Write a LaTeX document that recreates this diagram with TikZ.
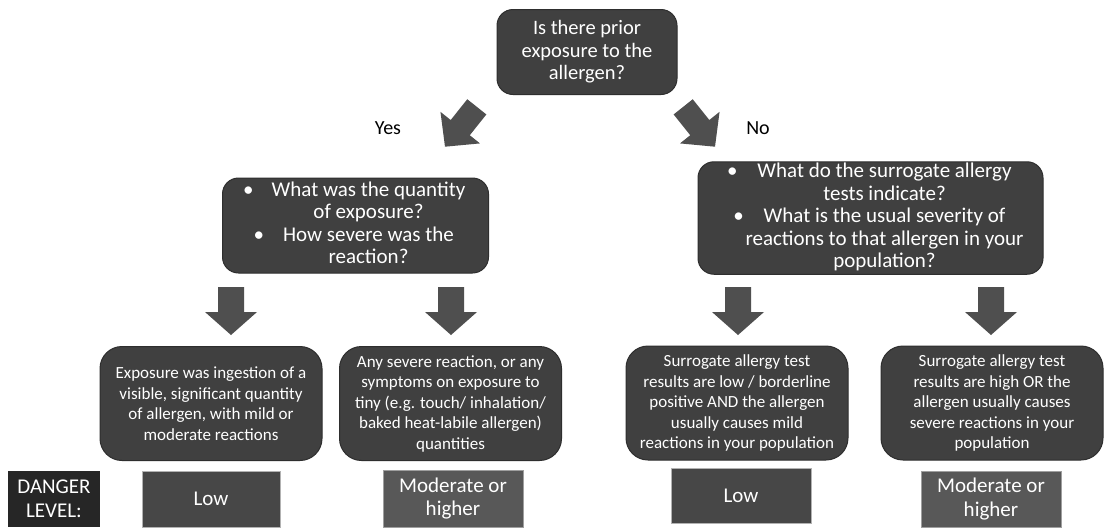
\documentclass[tikz,border=0pt]{standalone}
\usepackage{fontspec}
\setmainfont{Carlito}

\definecolor{boxgray}{HTML}{404040}
\definecolor{boxedge}{HTML}{2E2E2E}
\definecolor{arrowgray}{HTML}{4F4F4F}
\definecolor{lowgray}{HTML}{474747}
\definecolor{modgray}{HTML}{585858}
\definecolor{levelgray}{HTML}{262626}

\tikzset{
  qbox/.style={draw=boxedge, fill=boxgray, line width=1pt, rounded corners=16pt,
    text=white, align=center, inner sep=0pt},
  bbox/.style={qbox, rounded corners=22pt, minimum width=222, minimum height=114,
    font=\fontsize{17}{20.5}\selectfont},
  levelbox/.style={draw=gray!60, fill=lowgray, line width=0.8pt, text=white,
    align=center, inner sep=0pt, font=\fontsize{21}{23.5}\selectfont},
  lbl/.style={font=\fontsize{20}{24}\selectfont},
  % block arrows, tip at the origin, pointing along x
  downarrow/.pic={\fill[arrowgray] (0,0) -- (-23,26) -- (-23,13) -- (-48,13)
    -- (-48,-13) -- (-23,-13) -- (-23,-26) -- cycle;},
  slantarrow/.pic={\fill[arrowgray] (0,0) -- (-24.4,25.3) -- (-24.4,12.2) -- (-51,12.2)
    -- (-51,-12.2) -- (-24.4,-12.2) -- (-24.4,-25.3) -- cycle;}
}

\begin{document}
\begin{tikzpicture}[x=1pt, y=-1pt]
\useasboundingbox[fill=white] (0,0) rectangle (1106,531);

% question at the top
\node[qbox, minimum width=180, minimum height=85, font=\fontsize{20.5}{22.5}\selectfont]
  (prior) at (587,52) {Is there prior\\exposure to the\\allergen?};

% yes / no branches
\pic[rotate=231.4] (yesarrow) at (445,146.7) {slantarrow};
\pic[rotate=308.6] (noarrow) at (715,146.7) {slantarrow};
\node[lbl] (yes) at (388,128) {Yes};
\node[lbl] (no) at (758,128) {No};

% second level questions
\node[qbox, minimum width=266, minimum height=95, font=\fontsize{21}{22.5}\selectfont]
  (quantity) at (355.5,225.5) {\begin{tabular}{@{\hspace{26pt}}c@{}}
  \llap{\textbullet\hspace{18pt}}What was the quantity\\
  of exposure?\\
  \llap{\textbullet\hspace{19pt}}How severe was the\\
  reaction?\end{tabular}};
\node[qbox, minimum width=345, minimum height=110, font=\fontsize{21}{22.5}\selectfont]
  (surrogate) at (870.5,218) {\begin{tabular}{@{\hspace{28pt}}c@{}}
  \llap{\textbullet\hspace{20pt}}What do the surrogate allergy\\
  tests indicate?\\
  \llap{\textbullet\hspace{20pt}}What is the usual severity of\\
  reactions to that allergen in your\\
  population?\end{tabular}};

% down arrows
\pic[rotate=-90] (down1) at (231,335) {downarrow};
\pic[rotate=-90] (down2) at (451,335) {downarrow};
\pic[rotate=-90] (down3) at (738,335) {downarrow};
\pic[rotate=-90] (down4) at (991,335) {downarrow};

% outcomes
\node[bbox] (ingestion) at (211,403.5) {Exposure was ingestion of a\\visible, significant quantity\\of allergen, with mild or\\moderate reactions};
\node[bbox] (severe) at (450.5,403.5) {Any severe reaction, or any\\symptoms on exposure to\\tiny (e.g. touch/ inhalation/\\baked heat-labile allergen)\\quantities};
\node[bbox] (lowtest) at (737,403) {Surrogate allergy test\\results are low / borderline\\positive AND the allergen\\usually causes mild\\reactions in your population};
\node[bbox] (hightest) at (992,403) {Surrogate allergy test\\results are high OR the\\allergen usually causes\\severe reactions in your\\population};

% danger level row
\node[levelbox, fill=levelgray, draw=none, minimum width=92, minimum height=56] (danger) at (54,499) {DANGER\\LEVEL:};
\node[levelbox, minimum width=138, minimum height=56] (low1) at (211,499) {Low};
\node[levelbox, fill=modgray, draw=gray!75, minimum width=140, minimum height=57] (mod1) at (453,498.5) {Moderate or\\higher};
\node[levelbox, minimum width=140, minimum height=55] (low2) at (741,495.5) {Low};
\node[levelbox, fill=modgray, draw=gray!75, minimum width=140, minimum height=56] (mod2) at (991,499) {Moderate or\\higher};
\end{tikzpicture}
\end{document}
